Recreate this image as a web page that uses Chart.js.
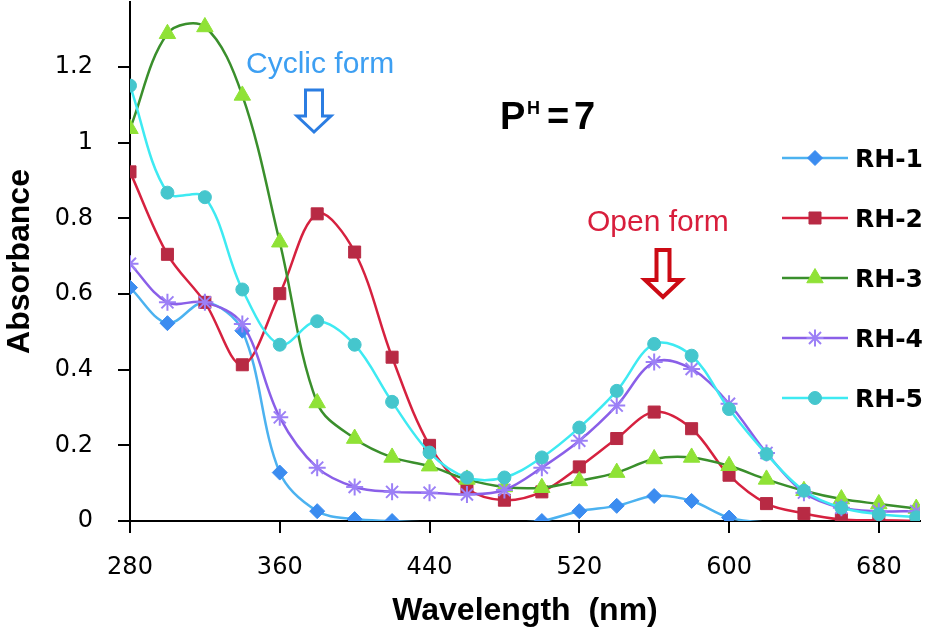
<!DOCTYPE html>
<html>
<head>
<meta charset="utf-8">
<title>Absorbance - pH 7</title>
<script src="https://cdn.jsdelivr.net/npm/chart.js@4.4.1/dist/chart.umd.min.js"></script>
<style>
  html, body { margin: 0; padding: 0; background: #fff; }
  #wrap { width: 931px; height: 635px; }
</style>
</head>
<body>
<div id="wrap"><canvas id="absChart" width="931" height="635"></canvas></div>
<script>
// ── data (nm / absorbance) ──
const wavelengths = [280, 300, 320, 340, 360, 380, 400, 420, 440, 460, 480,
                     500, 520, 540, 560, 580, 600, 620, 640, 660, 680, 700];
const rh1 = [0.617, 0.523, 0.578, 0.503, 0.128, 0.026, 0.005, 0.0, -0.004, -0.004, -0.004,
             0.0, 0.026, 0.040, 0.066, 0.053, 0.009, -0.004, -0.004, -0.004, -0.004, -0.004];
const rh2 = [0.923, 0.705, 0.578, 0.413, 0.601, 0.812, 0.711, 0.433, 0.200, 0.086, 0.055,
             0.077, 0.143, 0.218, 0.288, 0.244, 0.121, 0.046, 0.020, 0.004, 0.002, 0.0];
const rh3 = [1.037, 1.288, 1.306, 1.125, 0.737, 0.312, 0.218, 0.168, 0.145, 0.110, 0.090,
             0.088, 0.106, 0.128, 0.164, 0.168, 0.146, 0.110, 0.080, 0.058, 0.045, 0.033];
const rh4 = [0.680, 0.578, 0.578, 0.521, 0.274, 0.141, 0.090, 0.077, 0.075, 0.070, 0.082,
             0.141, 0.212, 0.305, 0.420, 0.402, 0.310, 0.180, 0.075, 0.035, 0.026, 0.026];
const rh5 = [1.151, 0.868, 0.856, 0.612, 0.466, 0.528, 0.466, 0.315, 0.181, 0.115, 0.115,
             0.168, 0.247, 0.344, 0.468, 0.437, 0.296, 0.177, 0.080, 0.035, 0.018, 0.010];
const seriesNames = ['RH-1', 'RH-2', 'RH-3', 'RH-4', 'RH-5'];
const xTicks = [280, 360, 440, 520, 600, 680];
const yTicks = [0, 0.2, 0.4, 0.6, 0.8, 1, 1.2];

// ── look of each series (Excel style) ──
const STYLES = [
  { line: '#4cb2f0', mark: '#3b8cf0', shape: 'rectRot',  r: 7.5, bw: 1 },
  { line: '#d6213f', mark: '#b82a44', shape: 'rect',     r: 8.5, bw: 1 },
  { line: '#3a8f2c', mark: '#8fe236', shape: 'triangle', r: 9.5, bw: 1 },
  { line: '#8a5fe8', mark: '#9c80f6', shape: 'star',     r: 8.5, bw: 2 },
  { line: '#3eeaf2', mark: '#45c6cd', shape: 'circle',   r: 6.5, bw: 1 }
];
const allSeries = [rh1, rh2, rh3, rh4, rh5];

const datasets = allSeries.map((vals, i) => {
  const st = STYLES[i];
  return {
    label: seriesNames[i],
    data: wavelengths.map((w, k) => ({ x: w, y: vals[k] })),
    borderColor: st.line,
    borderWidth: 2.5,
    backgroundColor: st.mark,
    pointBackgroundColor: st.mark,
    pointBorderColor: st.mark,
    pointBorderWidth: st.bw,
    pointStyle: st.shape,
    // points below the axis are not shown in the original
    pointRadius: ctx => (ctx.raw && ctx.raw.y < 0) ? 0 : st.r,
    tension: 0.35,
    fill: false,
    order: allSeries.length - i   // later series on top, like Excel
  };
});

// hollow "down" arrow
function hollowArrow(ctx, cx, top, shaftW, headW, headTop, tip, color, lw) {
  ctx.beginPath();
  ctx.moveTo(cx - shaftW / 2, top);
  ctx.lineTo(cx + shaftW / 2, top);
  ctx.lineTo(cx + shaftW / 2, headTop);
  ctx.lineTo(cx + headW / 2, headTop);
  ctx.lineTo(cx, tip);
  ctx.lineTo(cx - headW / 2, headTop);
  ctx.lineTo(cx - shaftW / 2, headTop);
  ctx.closePath();
  ctx.fillStyle = '#fff';
  ctx.fill();
  ctx.lineWidth = lw;
  ctx.lineJoin = 'miter';
  ctx.strokeStyle = color;
  ctx.stroke();
}

const notesPlugin = {
  id: 'notes',
  afterDatasetsDraw(chart) {
    const ctx = chart.ctx;
    ctx.save();

    // Cyclic form
    ctx.textBaseline = 'alphabetic';
    ctx.textAlign = 'left';
    ctx.font = '30px "Liberation Sans", Arial, sans-serif';
    ctx.fillStyle = '#3d9ff2';
    ctx.fillText('Cyclic form', 246, 73);
    hollowArrow(ctx, 314, 90, 17, 34, 116, 132, '#2b7de2', 3);

    // Open form
    ctx.fillStyle = '#d81e3c';
    ctx.fillText('Open form', 587, 231);
    hollowArrow(ctx, 663, 250, 13, 36, 280, 297, '#cc0a14', 4);

    // PH = 7
    ctx.fillStyle = '#000';
    ctx.font = 'bold 38px "Liberation Sans", Arial, sans-serif';
    ctx.fillText('P', 500, 129);
    ctx.font = 'bold 18px "Liberation Sans", Arial, sans-serif';
    ctx.fillText('H', 527, 114);
    ctx.font = 'bold 38px "Liberation Sans", Arial, sans-serif';
    ctx.fillText('=', 547, 129);
    ctx.fillText('7', 574, 129);

    // legend
    const drawPoint = Chart.helpers && Chart.helpers.drawPoint;
    chart.data.datasets.forEach((ds, i) => {
      const st = STYLES[i];
      const y = 158 + i * 60;
      ctx.beginPath();
      ctx.moveTo(782, y);
      ctx.lineTo(848, y);
      ctx.strokeStyle = st.line;
      ctx.lineWidth = 2.5;
      ctx.stroke();
      ctx.fillStyle = st.mark;
      ctx.strokeStyle = st.mark;
      ctx.lineWidth = st.bw;
      if (drawPoint) {
        drawPoint(ctx, { pointStyle: st.shape, radius: st.r, borderWidth: st.bw, rotation: 0 }, 815, y);
      } else {
        ctx.beginPath(); ctx.arc(815, y, st.r, 0, Math.PI * 2); ctx.fill();
      }
      ctx.fillStyle = '#000';
      ctx.font = 'bold 25px "DejaVu Sans", sans-serif';
      ctx.fillText(ds.label, 855, y + 9);
    });

    ctx.restore();
  }
};

const tickFont = { family: '"DejaVu Sans", sans-serif', size: 24 };
const titleFont = { family: '"Liberation Sans", Arial, sans-serif', size: 32, weight: 'bold' };
const axisGrid = { drawOnChartArea: false, drawTicks: true, tickLength: 12, color: '#000', lineWidth: 2 };

// fixed axis boxes, no extra label padding
function fixBox(s, key, size) {
  s[key] = size;
  s.paddingTop = 0; s.paddingBottom = 0; s.paddingLeft = 0; s.paddingRight = 0;
}

new Chart(document.getElementById('absChart'), {
  type: 'line',
  data: { datasets },
  plugins: [notesPlugin],
  options: {
    responsive: false,
    animation: false,
    devicePixelRatio: 1,
    layout: { autoPadding: false, padding: { top: 2, right: 11, left: 0, bottom: 0 } },
    plugins: { legend: { display: false }, tooltip: { enabled: false } },
    scales: {
      x: {
        type: 'linear',
        min: 280, max: 702,
        afterBuildTicks: s => { s.ticks = xTicks.map(v => ({ value: v })); },
        afterFit: s => fixBox(s, 'height', 114),
        ticks: { font: tickFont, color: '#000', padding: 20, maxRotation: 0, autoSkip: false },
        grid: axisGrid,
        border: { color: '#000', width: 2 },
        title: { display: true, text: 'Wavelength  (nm)', font: titleFont, color: '#000', padding: { top: 0, bottom: 5 } }
      },
      y: {
        type: 'linear',
        min: 0, max: 1.372,
        afterBuildTicks: s => { s.ticks = yTicks.map(v => ({ value: v })); },
        afterFit: s => fixBox(s, 'width', 130),
        ticks: { font: tickFont, color: '#000', padding: 25, callback: v => String(v) },
        grid: axisGrid,
        border: { color: '#000', width: 2 },
        title: { display: true, text: 'Absorbance', font: titleFont, color: '#000', padding: { top: 1, bottom: 0 } }
      }
    }
  }
});
</script>
</body>
</html>
